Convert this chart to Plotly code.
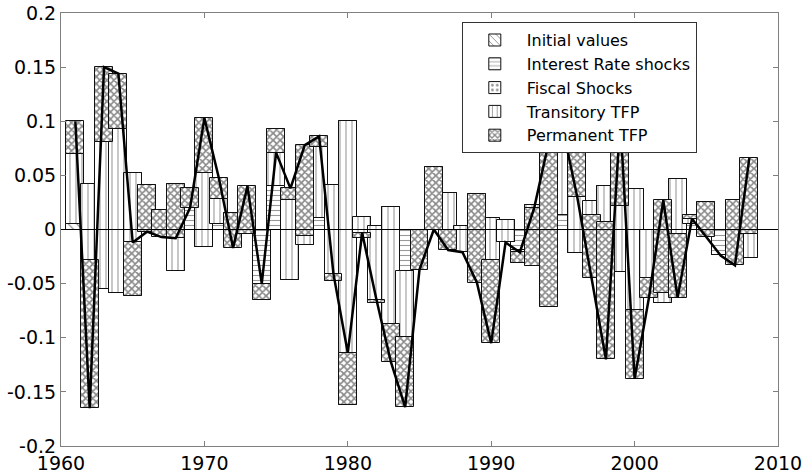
import plotly.graph_objects as go
import numpy as np

years = list(range(1961, 2009))

initial = [0.005, 0.003] + [0.0] * 46

interest = [0, 0.039, -0.055, -0.059, 0.052, 0, 0, -0.038, 0.024, -0.016,
            0.005, 0, 0, -0.050, 0.040, -0.047, -0.014, 0.011, 0.041, 0.100,
            0.012, 0.003, 0.021, -0.038, 0, 0, 0.034, 0.003, 0, 0.011,
            0.009, -0.019, 0.023, -0.051, 0.013, -0.022, 0.026, 0.040, -0.039, 0.037,
            0, -0.068, 0.047, 0.005, 0, -0.024, 0, -0.026]

fiscal = [0.0] * 48

transitory = [0.065, -0.070, 0.136, 0.152, -0.113, 0.041, 0.018, 0.080, 0.014, 0.068,
              0.023, 0.015, -0.004, -0.015, 0.053, 0.074, 0.008, 0.065, -0.089, -0.262,
              -0.020, -0.071, -0.108, -0.061, 0, 0.058, -0.034, -0.024, 0.033, -0.039,
              -0.021, -0.012, -0.057, -0.021, 0.070, 0.110, -0.013, -0.033, 0.061, -0.111,
              -0.045, 0.009, -0.051, 0.008, 0.025, 0, 0.027, 0.022]

permanent = [0.030, -0.137, 0.069, 0.051, 0.049, -0.043, -0.025, -0.050, -0.018, 0.051,
             0.020, -0.032, 0.044, 0.015, -0.022, 0.011, 0.084, 0.010, 0.007, 0.048,
             0.005, 0.003, -0.035, -0.065, -0.037, -0.058, -0.019, 0, -0.082, -0.077,
             0, 0.010, 0.054, 0.152, 0.010, -0.058, -0.058, -0.127, 0.080, -0.064,
             -0.018, 0.086, -0.059, -0.003, -0.032, 0, -0.060, 0.070]

series = [
    ("Initial values", initial, dict(shape="\\", size=6, solidity=0.2, fgcolor="#222222")),
    ("Interest Rate shocks", interest, dict(shape="-", size=5, solidity=0.22, fgcolor="#333333")),
    ("Fiscal Shocks", fiscal, dict(shape=".", size=6, solidity=0.25, fgcolor="#222222")),
    ("Transitory TFP", transitory, dict(shape="|", size=6, solidity=0.2, fgcolor="#444444")),
    ("Permanent TFP", permanent, dict(shape="x", size=5, solidity=0.55, fgcolor="#111111")),
]

fig = go.Figure()
base = np.zeros(len(years))
for name, vals, pat in series:
    v = np.array(vals, dtype=float)
    fig.add_trace(go.Bar(
        x=years, y=v, base=base.copy(), name=name, width=1.25,
        marker=dict(color="white", line=dict(color="#111111", width=1),
                    pattern=dict(bgcolor="white", **pat)),
    ))
    base = base + v

total = base
fig.add_trace(go.Scatter(x=years, y=total, mode="lines", showlegend=False,
                         line=dict(color="black", width=2.5)))

fig.add_shape(type="line", xref="paper", x0=0, x1=1, yref="y", y0=0, y1=0,
              line=dict(color="black", width=1), layer="above")

axis_common = dict(showgrid=False, zeroline=False, showline=True, mirror="ticks",
                   linecolor="#808080", linewidth=1, ticks="inside", ticklen=5,
                   tickcolor="#808080", automargin=False,
                   tickfont=dict(family="DejaVu Sans", size=19, color="black"))

fig.update_layout(
    width=804, height=473,
    margin=dict(l=61, r=26, t=13, b=27),
    plot_bgcolor="white", paper_bgcolor="white",
    barmode="overlay", bargap=0,
    xaxis=dict(range=[1960, 2010], tickvals=[1960, 1970, 1980, 1990, 2000, 2010], **axis_common),
    yaxis=dict(range=[-0.2, 0.2], tickvals=[-0.2, -0.15, -0.1, -0.05, 0, 0.05, 0.1, 0.15, 0.2],
               ticktext=["-0.2", "-0.15", "-0.1", "-0.05", "0", "0.05", "0.1", "0.15", "0.2"],
               **axis_common),
    legend=dict(x=0.559, y=0.979, xanchor="left", yanchor="top", bgcolor="white",
                bordercolor="#333333", borderwidth=1, traceorder="normal",
                font=dict(family="DejaVu Sans", size=16, color="black"),
                itemwidth=54, tracegroupgap=0),
    showlegend=True,
)

fig.write_html("out.html")
